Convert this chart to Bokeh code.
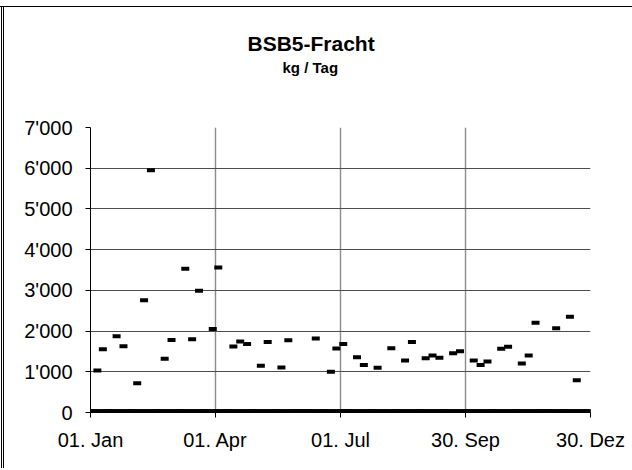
from bokeh.plotting import figure
from bokeh.models import Range1d, FixedTicker, Title, ColumnDataSource, InlineStyleSheet
from bokeh.embed import file_html
from bokeh.resources import INLINE

# ---- data ----
title_text = "BSB5-Fracht"
subtitle_text = "kg / Tag"

# day of year (0 = 01. Jan) of each measurement and the BSB5 load in kg/day
days = [5, 9, 19, 24, 34, 39, 44, 54, 59, 69, 74, 79, 89, 93, 104, 109, 114,
        124, 129, 139, 144, 164, 175, 179, 184, 194, 199, 209, 219, 229, 234,
        244, 249, 254, 264, 269, 279, 284, 289, 299, 304, 314, 319, 324, 339,
        349, 354]
values = [1030, 1555, 1875, 1630, 720, 2760, 5950, 1320, 1780, 3530, 1800,
          2990, 2050, 3560, 1620, 1745, 1680, 1150, 1730, 1105, 1775, 1820,
          1000, 1570, 1685, 1360, 1165, 1100, 1580, 1280, 1730, 1335, 1400,
          1345, 1455, 1505, 1280, 1165, 1255, 1565, 1615, 1205, 1400, 2205,
          2070, 2350, 795]
# all remaining days of the year carry a value of 0
n_days = 365
zero_days = [d for d in range(n_days) if d not in set(days)]
zero_values = [0] * len(zero_days)

x_ticks = [0, 91, 182, 273, 364]
x_labels = ["01. Jan", "01. Apr", "01. Jul", "30. Sep", "30. Dez"]
y_ticks = [0, 1000, 2000, 3000, 4000, 5000, 6000, 7000]
y_labels = ["0", "1'000", "2'000", "3'000", "4'000", "5'000", "6'000", "7'000"]

FONT = "Liberation Sans"
W, H = 632, 468

p = figure(width=W, height=H, output_backend="svg", toolbar_location=None,
           title_location=None,
           x_range=Range1d(x_ticks[0], x_ticks[-1]),
           y_range=Range1d(y_ticks[0], y_ticks[-1]),
           min_border_left=90, min_border_right=42,
           min_border_top=127, min_border_bottom=56)
# chart-area border (top line and double left line) drawn behind a transparent canvas
p.stylesheets = [InlineStyleSheet(css=(
    ":host { background: "
    "linear-gradient(#000,#000) 0px 6px / 100% 1px no-repeat, "
    "linear-gradient(#000,#000) 1px 6px / 1px 100% no-repeat, "
    "linear-gradient(#000,#000) 3px 6px / 1px 100% no-repeat, "
    "#ffffff; }"))]
p.background_fill_color = "white"
p.border_fill_color = "white"
p.border_fill_alpha = 0
p.outline_line_color = None

# grids
p.xgrid.ticker = FixedTicker(ticks=x_ticks)
p.ygrid.ticker = FixedTicker(ticks=y_ticks)
p.xgrid.grid_line_color = "#8c8c8c"
p.xgrid.grid_line_width = 1.4
p.ygrid.grid_line_color = "#4d4d4d"
p.ygrid.grid_line_width = 1

# axes
for ax in (p.xaxis[0], p.yaxis[0]):
    ax.axis_line_color = "black"
    ax.major_tick_line_color = "black"
    ax.major_tick_in = 0
    ax.major_tick_out = 5
    ax.minor_tick_line_color = None
    ax.major_label_text_font = FONT
    ax.major_label_text_font_size = "20px"
    ax.major_label_text_color = "black"

p.xaxis.ticker = FixedTicker(ticks=x_ticks)
p.xaxis.major_label_overrides = dict(zip(x_ticks, x_labels))
p.xaxis.major_label_standoff = 11
p.yaxis.ticker = FixedTicker(ticks=y_ticks)
p.yaxis.major_label_overrides = dict(zip(y_ticks, y_labels))
p.yaxis.major_label_standoff = 13

# data
src_zero = ColumnDataSource(dict(x=zero_days, y=zero_values))
src = ColumnDataSource(dict(x=days, y=values))
p.scatter("x", "y", source=src_zero, marker="dash", size=8, line_width=6,
          line_color="black")
p.scatter("x", "y", source=src, marker="dash", size=8, line_width=4,
          line_color="black")

# titles: the one added first sits closest to the plot
p.add_layout(Title(text=" ", standoff=49, text_font=FONT,
                   text_font_size="1px"), "above")
p.add_layout(Title(text=subtitle_text, align="left", offset=192,
                   standoff=0, text_font=FONT, text_font_size="15px",
                   text_font_style="bold", text_color="black"), "above")
p.add_layout(Title(text=title_text, align="left", offset=157,
                   standoff=3, text_font=FONT, text_font_size="21px",
                   text_font_style="bold", text_color="black"), "above")

open("out.html", "w").write(file_html(p, INLINE))
